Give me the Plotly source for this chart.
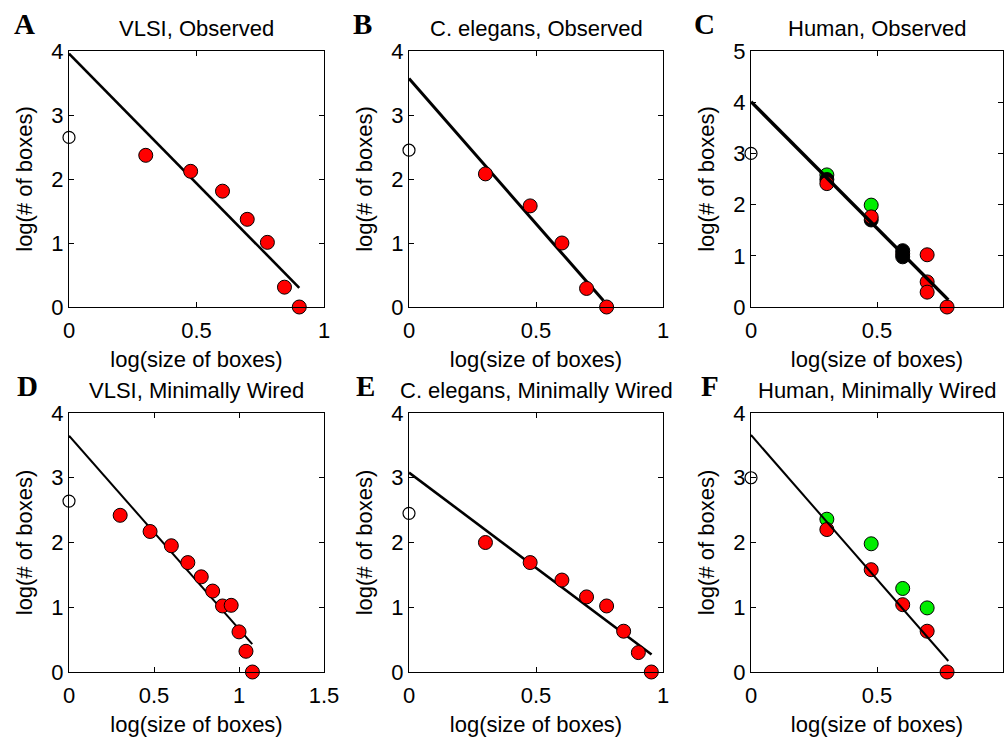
import plotly.graph_objects as go

W, H = 1007, 742

# ---------------- data (log10 values) ----------------
# Panel A: VLSI, Observed
A_open_x = [0.0]; A_open_y = [2.65]
A_red_x = [0.301, 0.477, 0.602, 0.699, 0.778, 0.845, 0.903]
A_red_y = [2.37, 2.12, 1.81, 1.37, 1.01, 0.31, 0.0]
A_fit_x = [0.0, 0.903]; A_fit_y = [3.96, 0.30]

# Panel B: C. elegans, Observed
B_open_x = [0.0]; B_open_y = [2.45]
B_red_x = [0.301, 0.477, 0.602, 0.699, 0.778]
B_red_y = [2.08, 1.58, 1.00, 0.29, 0.0]
B_fit_x = [0.0, 0.765]; B_fit_y = [3.57, 0.10]

# Panel C: Human, Observed
C_open_x = [0.0]; C_open_y = [3.0]
C_green_x = [0.301, 0.477]
C_green_y = [2.58, 1.99]
C_black_under_x = [0.301, 0.477]
C_black_under_y = [2.49, 1.70]
C_red_x = [0.301, 0.477, 0.602, 0.699, 0.699, 0.699, 0.778]
C_red_y = [2.41, 1.76, 1.04, 1.02, 0.49, 0.29, 0.0]
C_black_over_x = [0.602, 0.602]
C_black_over_y = [1.10, 0.98]
C_fit_x = [0.0, 0.783]; C_fit_y = [4.01, 0.14]

# Panel D: VLSI, Minimally Wired
D_open_x = [0.0]; D_open_y = [2.64]
D_red_x = [0.301, 0.477, 0.602, 0.699, 0.778, 0.845, 0.903, 0.954, 1.0, 1.041, 1.079]
D_red_y = [2.42, 2.17, 1.95, 1.69, 1.47, 1.25, 1.02, 1.03, 0.62, 0.32, 0.0]
D_fit_x = [0.0, 1.078]; D_fit_y = [3.65, 0.43]

# Panel E: C. elegans, Minimally Wired
E_open_x = [0.0]; E_open_y = [2.45]
E_red_x = [0.301, 0.477, 0.602, 0.699, 0.778, 0.845, 0.903, 0.954]
E_red_y = [2.00, 1.69, 1.42, 1.16, 1.02, 0.63, 0.30, 0.0]
E_fit_x = [0.0, 0.955]; E_fit_y = [3.08, 0.27]

# Panel F: Human, Minimally Wired
F_open_x = [0.0]; F_open_y = [3.0]
F_green_x = [0.301, 0.477, 0.602, 0.699]
F_green_y = [2.36, 1.98, 1.29, 0.99]
F_red_x = [0.301, 0.477, 0.602, 0.699, 0.778]
F_red_y = [2.20, 1.58, 1.04, 0.63, 0.0]
F_fit_x = [0.0, 0.783]; F_fit_y = [3.66, 0.17]

titles = ["VLSI, Observed", "C. elegans, Observed", "Human, Observed",
          "VLSI, Minimally Wired", "C. elegans, Minimally Wired", "Human, Minimally Wired"]
letters = ["A", "B", "C", "D", "E", "F"]
x_ranges = [[0, 1], [0, 1], [0, 1], [0, 1.5], [0, 1], [0, 1]]
y_ranges = [[0, 4], [0, 4], [0, 5], [0, 4], [0, 4], [0, 4]]
x_label = "log(size of boxes)"
y_label = "log(# of boxes)"

# ---------------- layout geometry (pixels) ----------------
col_px = [(69, 324), (409, 663), (751, 1003)]
row_px = [(51, 307), (413, 672)]
letter_px = [(24, 24), (362, 24), (704, 24), (27, 386), (365, 386), (710, 386)]
fit_widths = [2.6, 3.0, 3.4, 2.0, 2.6, 2.0]

FONT = "Liberation Sans"
FS = 22
RED = "#ff0000"
GREEN = "#00ee00"

fig = go.Figure()

def add(panel, x, y, kind):
    ax = "" if panel == 0 else str(panel + 1)
    kw = dict(x=x, y=y, xaxis="x" + ax, yaxis="y" + ax, showlegend=False,
              cliponaxis=False, hoverinfo="skip")
    if kind == "fit":
        fig.add_trace(go.Scatter(mode="lines", line=dict(color="black", width=fit_widths[panel]), **kw))
    elif kind == "open":
        fig.add_trace(go.Scatter(mode="markers", marker=dict(size=12, color="rgba(0,0,0,0)",
                                 line=dict(color="black", width=1.2)), **kw))
    else:
        col = {"red": RED, "green": GREEN, "black": "black"}[kind]
        fig.add_trace(go.Scatter(mode="markers", marker=dict(size=14, color=col,
                                 line=dict(color="black", width=1)), **kw))

panels = [
    [(A_open_x, A_open_y, "open"), (A_fit_x, A_fit_y, "fit"), (A_red_x, A_red_y, "red")],
    [(B_open_x, B_open_y, "open"), (B_fit_x, B_fit_y, "fit"), (B_red_x, B_red_y, "red")],
    [(C_open_x, C_open_y, "open"), (C_green_x, C_green_y, "green"),
     (C_black_under_x, C_black_under_y, "black"), (C_red_x, C_red_y, "red"),
     (C_black_over_x, C_black_over_y, "black"), (C_fit_x, C_fit_y, "fit")],
    [(D_open_x, D_open_y, "open"), (D_fit_x, D_fit_y, "fit"), (D_red_x, D_red_y, "red")],
    [(E_open_x, E_open_y, "open"), (E_fit_x, E_fit_y, "fit"), (E_red_x, E_red_y, "red")],
    [(F_open_x, F_open_y, "open"), (F_green_x, F_green_y, "green"),
     (F_red_x, F_red_y, "red"), (F_fit_x, F_fit_y, "fit")],
]
for i, series in enumerate(panels):
    for x, y, kind in series:
        add(i, x, y, kind)

layout = dict(width=W, height=H, margin=dict(l=0, r=0, t=0, b=0, autoexpand=False),
              paper_bgcolor="white", plot_bgcolor="white",
              font=dict(family=FONT, size=FS, color="black"))
annotations = []
for i in range(6):
    r, c = divmod(i, 3)
    x0, x1 = col_px[c]
    y0, y1 = row_px[r]
    ax = "" if i == 0 else str(i + 1)
    common = dict(showline=True, linecolor="black", linewidth=1.3, mirror="ticks",
                  ticks="inside", ticklen=5, tickwidth=1, tickcolor="black",
                  showgrid=False, zeroline=False, tickfont=dict(family=FONT, size=FS),
                  layer="above traces", automargin=False)
    layout["xaxis" + ax] = dict(domain=[x0 / W, x1 / W], range=x_ranges[i], dtick=0.5,
                                anchor="y" + ax, ticklabelstandoff=3,
                                title=dict(text=x_label, standoff=10,
                                font=dict(family=FONT, size=FS)), **common)
    layout["yaxis" + ax] = dict(domain=[1 - y1 / H, 1 - y0 / H], range=y_ranges[i], dtick=1,
                                anchor="x" + ax, title=dict(text=y_label, standoff=12,
                                font=dict(family=FONT, size=FS)), **common)
    annotations.append(dict(text=titles[i], xref="paper", yref="paper",
                            x=(x0 + x1) / 2 / W, y=1 - y0 / H, xanchor="center",
                            yanchor="bottom", yshift=8, showarrow=False,
                            font=dict(family=FONT, size=FS)))
    lx, ly = letter_px[i]
    annotations.append(dict(text="<b>" + letters[i] + "</b>", xref="paper", yref="paper",
                            x=lx / W, y=1 - ly / H, xanchor="center", yanchor="middle",
                            showarrow=False,
                            font=dict(family="Liberation Serif", size=29)))
layout["annotations"] = annotations
fig.update_layout(**layout)
fig.write_html("out.html", config={"displayModeBar": False},
               post_script="document.body.style.margin='0px';")
